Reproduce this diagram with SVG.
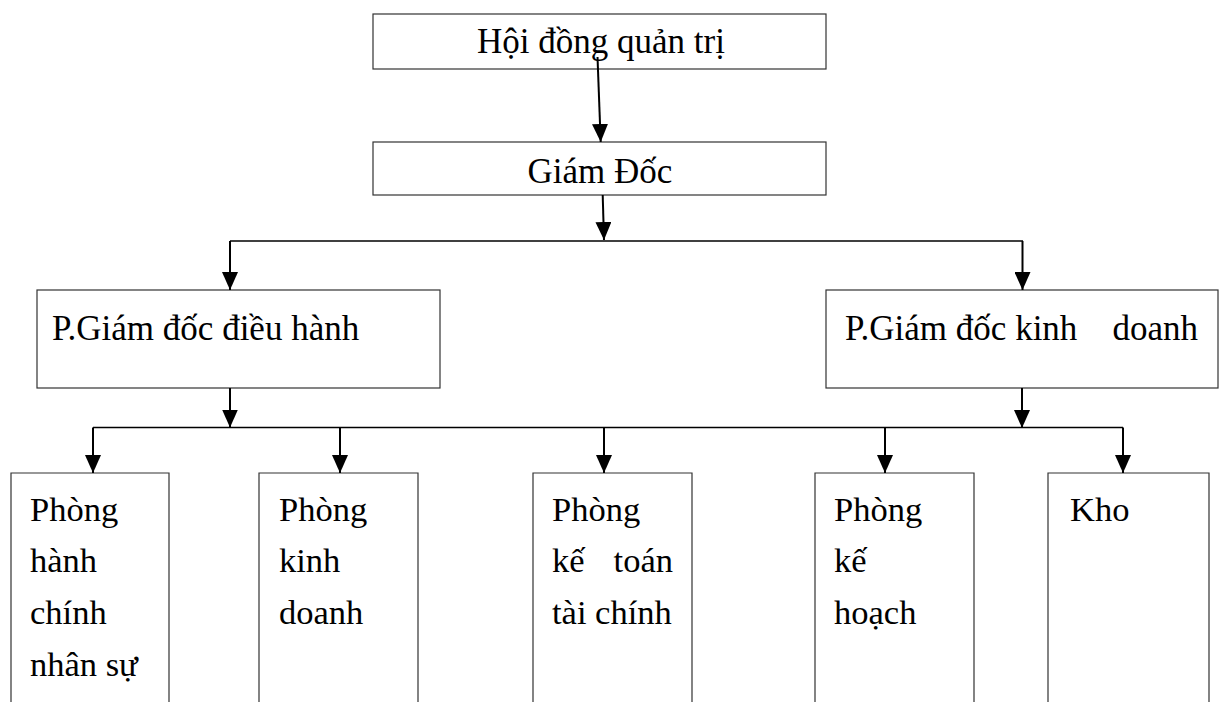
<svg xmlns="http://www.w3.org/2000/svg" width="1219" height="702" viewBox="0 0 1219 702">
<style>
.box{fill:#fff;stroke:#333;stroke-width:1.2}
.t{font-family:"Liberation Serif","Times New Roman",serif;font-size:35px;fill:#000}
.s{font-size:34.5px}
.c{fill:none;stroke:#000;stroke-width:2}
.bus{fill:none;stroke:#000;stroke-width:1.4}
</style>
<defs>
<marker id="ah" viewBox="0 0 18 16" refX="18" refY="8" markerWidth="18" markerHeight="16" markerUnits="userSpaceOnUse" orient="auto">
<path d="M0,0 L18,8 L0,16 z" fill="#000"/>
</marker>
</defs>
<rect width="1219" height="702" fill="#fff"/>
<g id="hdqt">
<rect class="box" x="373" y="14" width="453" height="55"/>
<text class="t" x="601" y="53" text-anchor="middle">Hội đồng quản trị</text>
</g>
<g id="giamdoc">
<rect class="box" x="373" y="142" width="453" height="53"/>
<text class="t" x="600" y="183" text-anchor="middle">Giám Đốc</text>
</g>
<g id="pgd-dieuhanh">
<rect class="box" x="37" y="290" width="403" height="98"/>
<text class="t" x="52" y="340">P.Giám đốc điều hành</text>
</g>
<g id="pgd-kinhdoanh">
<rect class="box" x="826" y="290" width="392" height="98"/>
<text class="t" x="845" y="340">P.Giám đốc kinh</text>
<text class="t" x="1198" y="340" text-anchor="end">doanh</text>
</g>
<g id="p-hcns">
<path class="box" d="M11,702 V473 H169 V702"/>
<text class="t s" x="30" y="521">Phòng</text>
<text class="t s" x="30" y="572">hành</text>
<text class="t s" x="30" y="624">chính</text>
<text class="t s" x="30" y="676">nhân sự</text>
</g>
<g id="p-kd">
<path class="box" d="M259,702 V473 H418 V702"/>
<text class="t s" x="279" y="521">Phòng</text>
<text class="t s" x="279" y="572">kinh</text>
<text class="t s" x="279" y="624">doanh</text>
</g>
<g id="p-kttc">
<path class="box" d="M533,702 V473 H692 V702"/>
<text class="t s" x="552" y="521">Phòng</text>
<text class="t s" x="552" y="572">kế</text>
<text class="t s" x="673" y="572" text-anchor="end">toán</text>
<text class="t s" x="552" y="624">tài chính</text>
</g>
<g id="p-kh">
<path class="box" d="M815,702 V473 H974 V702"/>
<text class="t s" x="834" y="521">Phòng</text>
<text class="t s" x="834" y="572">kế</text>
<text class="t s" x="834" y="624">hoạch</text>
</g>
<g id="kho">
<path class="box" d="M1048,702 V473 H1209 V702"/>
<text class="t s" x="1070" y="521">Kho</text>
</g>
<g id="connectors">
<path class="c" d="M597.5,57 L600.7,142" marker-end="url(#ah)"/>
<path class="c" d="M602.7,195 L604,240" marker-end="url(#ah)"/>
<path class="bus" d="M230,241 H1023"/>
<path class="c" d="M230,241 V290" marker-end="url(#ah)"/>
<path class="c" d="M1022.5,241 V290" marker-end="url(#ah)"/>
<path class="c" d="M230,388 V427.5" marker-end="url(#ah)"/>
<path class="c" d="M1022,388 V428" marker-end="url(#ah)"/>
<path class="bus" d="M93,427.5 H1123"/>
<path class="c" d="M93,427.5 V473" marker-end="url(#ah)"/>
<path class="c" d="M340,427.5 V473" marker-end="url(#ah)"/>
<path class="c" d="M604,427.5 V473" marker-end="url(#ah)"/>
<path class="c" d="M885,427.5 V473" marker-end="url(#ah)"/>
<path class="c" d="M1123,427.5 V473" marker-end="url(#ah)"/>
</g>
</svg>
